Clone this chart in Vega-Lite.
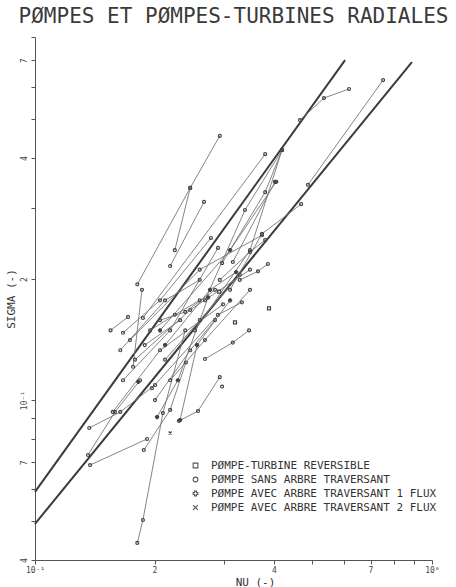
{
  "$schema": "https://vega.github.io/schema/vega-lite/v6.json",
  "width": 397,
  "height": 523,
  "autosize": {"type": "none"},
  "padding": {"left": 35, "top": 37, "right": 24, "bottom": 27},
  "background": "white",
  "title": {"text": "PØMPES ET PØMPES-TURBINES RADIALES", "font": "DejaVu Sans Mono", "fontSize": 21, "fontWeight": "normal", "color": "#3a3a3a", "offset": 10, "anchor": "middle"},
  "config": {"view": {"stroke": null}},
  "datasets": {
    "refs": [
      {"line": "a", "nu": 0.1, "sigma": 0.0591},
      {"line": "a", "nu": 0.604, "sigma": 0.701},
      {"line": "b", "nu": 0.1, "sigma": 0.0492},
      {"line": "b", "nu": 0.890, "sigma": 0.693}
    ],
    "pts": [
      {"s": 1, "o": 1, "type": "PØMPE SANS ARBRE TRAVERSANT", "nu": 0.181, "sigma": 0.194},
      {"s": 1, "o": 2, "type": "PØMPE SANS ARBRE TRAVERSANT", "nu": 0.246, "sigma": 0.337},
      {"s": 1, "o": 3, "type": "PØMPE SANS ARBRE TRAVERSANT", "nu": 0.292, "sigma": 0.454},
      {"s": 2, "o": 1, "type": "PØMPE SANS ARBRE TRAVERSANT", "nu": 0.225, "sigma": 0.236},
      {"s": 2, "o": 2, "type": "PØMPE SANS ARBRE TRAVERSANT", "nu": 0.246, "sigma": 0.337},
      {"s": 3, "o": 1, "type": "PØMPE SANS ARBRE TRAVERSANT", "nu": 0.187, "sigma": 0.160},
      {"s": 3, "o": 2, "type": "PØMPE SANS ARBRE TRAVERSANT", "nu": 0.380, "sigma": 0.409},
      {"s": 4, "o": 1, "type": "PØMPE SANS ARBRE TRAVERSANT", "nu": 0.219, "sigma": 0.2155},
      {"s": 4, "o": 2, "type": "PØMPE SANS ARBRE TRAVERSANT", "nu": 0.2665, "sigma": 0.311},
      {"s": 5, "o": 1, "type": "PØMPE SANS ARBRE TRAVERSANT", "nu": 0.268, "sigma": 0.177},
      {"s": 5, "o": 2, "type": "PØMPE SANS ARBRE TRAVERSANT", "nu": 0.338, "sigma": 0.297},
      {"s": 5, "o": 3, "type": "PØMPE SANS ARBRE TRAVERSANT", "nu": 0.419, "sigma": 0.419},
      {"s": 6, "o": 1, "type": "PØMPE SANS ARBRE TRAVERSANT", "nu": 0.296, "sigma": 0.219},
      {"s": 6, "o": 2, "type": "PØMPE SANS ARBRE TRAVERSANT", "nu": 0.380, "sigma": 0.329},
      {"s": 6, "o": 3, "type": "PØMPE SANS ARBRE TRAVERSANT", "nu": 0.419, "sigma": 0.419},
      {"s": 7, "o": 1, "type": "PØMPE SANS ARBRE TRAVERSANT", "nu": 0.315, "sigma": 0.2205},
      {"s": 7, "o": 2, "type": "PØMPE SANS ARBRE TRAVERSANT", "nu": 0.402, "sigma": 0.349},
      {"s": 8, "o": 1, "type": "PØMPE SANS ARBRE TRAVERSANT", "nu": 0.253, "sigma": 0.149},
      {"s": 8, "o": 2, "type": "PØMPE SANS ARBRE TRAVERSANT", "nu": 0.348, "sigma": 0.236},
      {"s": 8, "o": 3, "type": "PØMPE SANS ARBRE TRAVERSANT", "nu": 0.419, "sigma": 0.419},
      {"s": 9, "o": 1, "type": "PØMPE SANS ARBRE TRAVERSANT", "nu": 0.310, "sigma": 0.188},
      {"s": 9, "o": 2, "type": "PØMPE SANS ARBRE TRAVERSANT", "nu": 0.373, "sigma": 0.259},
      {"s": 9, "o": 3, "type": "PØMPE SANS ARBRE TRAVERSANT", "nu": 0.468, "sigma": 0.307},
      {"s": 10, "o": 1, "type": "PØMPE SANS ARBRE TRAVERSANT", "nu": 0.292, "sigma": 0.199},
      {"s": 10, "o": 2, "type": "PØMPE SANS ARBRE TRAVERSANT", "nu": 0.348, "sigma": 0.2335},
      {"s": 10, "o": 3, "type": "PØMPE SANS ARBRE TRAVERSANT", "nu": 0.380, "sigma": 0.250},
      {"s": 11, "o": 1, "type": "PØMPE SANS ARBRE TRAVERSANT", "nu": 0.328, "sigma": 0.199},
      {"s": 11, "o": 2, "type": "PØMPE SANS ARBRE TRAVERSANT", "nu": 0.3645, "sigma": 0.209},
      {"s": 11, "o": 3, "type": "PØMPE SANS ARBRE TRAVERSANT", "nu": 0.386, "sigma": 0.218},
      {"s": 12, "o": 1, "type": "PØMPE SANS ARBRE TRAVERSANT", "nu": 0.487, "sigma": 0.343},
      {"s": 12, "o": 2, "type": "PØMPE SANS ARBRE TRAVERSANT", "nu": 0.753, "sigma": 0.625},
      {"s": 13, "o": 1, "type": "PØMPE SANS ARBRE TRAVERSANT", "nu": 0.465, "sigma": 0.497},
      {"s": 13, "o": 2, "type": "PØMPE SANS ARBRE TRAVERSANT", "nu": 0.5345, "sigma": 0.564},
      {"s": 13, "o": 3, "type": "PØMPE SANS ARBRE TRAVERSANT", "nu": 0.618, "sigma": 0.594},
      {"s": 14, "o": 1, "type": "PØMPE SANS ARBRE TRAVERSANT", "nu": 0.155, "sigma": 0.149},
      {"s": 14, "o": 2, "type": "PØMPE SANS ARBRE TRAVERSANT", "nu": 0.1715, "sigma": 0.161},
      {"s": 15, "o": 1, "type": "PØMPE SANS ARBRE TRAVERSANT", "nu": 0.1666, "sigma": 0.147},
      {"s": 15, "o": 2, "type": "PØMPE SANS ARBRE TRAVERSANT", "nu": 0.2065, "sigma": 0.177},
      {"s": 15, "o": 3, "type": "PØMPE SANS ARBRE TRAVERSANT", "nu": 0.2775, "sigma": 0.253},
      {"s": 16, "o": 1, "type": "PØMPE SANS ARBRE TRAVERSANT", "nu": 0.186, "sigma": 0.188},
      {"s": 16, "o": 2, "type": "PØMPE SANS ARBRE TRAVERSANT", "nu": 0.1766, "sigma": 0.121},
      {"s": 17, "o": 1, "type": "PØMPE SANS ARBRE TRAVERSANT", "nu": 0.137, "sigma": 0.0852},
      {"s": 17, "o": 2, "type": "PØMPE SANS ARBRE TRAVERSANT", "nu": 0.164, "sigma": 0.0934},
      {"s": 17, "o": 3, "type": "PØMPE SANS ARBRE TRAVERSANT", "nu": 0.2006, "sigma": 0.109},
      {"s": 18, "o": 1, "type": "PØMPE SANS ARBRE TRAVERSANT", "nu": 0.136, "sigma": 0.073},
      {"s": 18, "o": 2, "type": "PØMPE SANS ARBRE TRAVERSANT", "nu": 0.159, "sigma": 0.0934},
      {"s": 18, "o": 3, "type": "PØMPE SANS ARBRE TRAVERSANT", "nu": 0.184, "sigma": 0.112},
      {"s": 19, "o": 1, "type": "PØMPE SANS ARBRE TRAVERSANT", "nu": 0.1376, "sigma": 0.0689},
      {"s": 19, "o": 2, "type": "PØMPE SANS ARBRE TRAVERSANT", "nu": 0.1915, "sigma": 0.080},
      {"s": 20, "o": 1, "type": "PØMPE SANS ARBRE TRAVERSANT", "nu": 0.181, "sigma": 0.0441},
      {"s": 20, "o": 2, "type": "PØMPE SANS ARBRE TRAVERSANT", "nu": 0.187, "sigma": 0.0503},
      {"s": 20, "o": 3, "type": "PØMPE SANS ARBRE TRAVERSANT", "nu": 0.210, "sigma": 0.0928},
      {"s": 20, "o": 4, "type": "PØMPE SANS ARBRE TRAVERSANT", "nu": 0.239, "sigma": 0.149},
      {"s": 21, "o": 1, "type": "PØMPE SANS ARBRE TRAVERSANT", "nu": 0.268, "sigma": 0.1265},
      {"s": 21, "o": 2, "type": "PØMPE SANS ARBRE TRAVERSANT", "nu": 0.315, "sigma": 0.139},
      {"s": 21, "o": 3, "type": "PØMPE SANS ARBRE TRAVERSANT", "nu": 0.346, "sigma": 0.149},
      {"s": 22, "o": 1, "type": "PØMPE SANS ARBRE TRAVERSANT", "nu": 0.2305, "sigma": 0.0887},
      {"s": 22, "o": 2, "type": "PØMPE SANS ARBRE TRAVERSANT", "nu": 0.2574, "sigma": 0.0939},
      {"s": 22, "o": 3, "type": "PØMPE SANS ARBRE TRAVERSANT", "nu": 0.292, "sigma": 0.114},
      {"s": 23, "o": 1, "type": "PØMPE SANS ARBRE TRAVERSANT", "nu": 0.188, "sigma": 0.0751},
      {"s": 23, "o": 2, "type": "PØMPE SANS ARBRE TRAVERSANT", "nu": 0.219, "sigma": 0.0945},
      {"s": 23, "o": 3, "type": "PØMPE SANS ARBRE TRAVERSANT", "nu": 0.240, "sigma": 0.124},
      {"s": 24, "o": 1, "type": "PØMPE AVEC ARBRE TRAVERSANT 1 FLUX", "nu": 0.203, "sigma": 0.0907},
      {"s": 24, "o": 2, "type": "PØMPE AVEC ARBRE TRAVERSANT 1 FLUX", "nu": 0.229, "sigma": 0.112},
      {"s": 24, "o": 3, "type": "PØMPE AVEC ARBRE TRAVERSANT 1 FLUX", "nu": 0.273, "sigma": 0.180},
      {"s": 25, "o": 1, "type": "PØMPE SANS ARBRE TRAVERSANT", "nu": 0.197, "sigma": 0.107},
      {"s": 25, "o": 2, "type": "PØMPE SANS ARBRE TRAVERSANT", "nu": 0.289, "sigma": 0.163},
      {"s": 25, "o": 3, "type": "PØMPE SANS ARBRE TRAVERSANT", "nu": 0.332, "sigma": 0.175},
      {"s": 26, "o": 1, "type": "PØMPE SANS ARBRE TRAVERSANT", "nu": 0.157, "sigma": 0.0934},
      {"s": 26, "o": 2, "type": "PØMPE SANS ARBRE TRAVERSANT", "nu": 0.2065, "sigma": 0.133},
      {"s": 26, "o": 3, "type": "PØMPE SANS ARBRE TRAVERSANT", "nu": 0.2976, "sigma": 0.173},
      {"s": 27, "o": 1, "type": "PØMPE AVEC ARBRE TRAVERSANT 1 FLUX", "nu": 0.232, "sigma": 0.0892},
      {"s": 27, "o": 2, "type": "PØMPE AVEC ARBRE TRAVERSANT 1 FLUX", "nu": 0.256, "sigma": 0.137},
      {"s": 27, "o": 3, "type": "PØMPE AVEC ARBRE TRAVERSANT 1 FLUX", "nu": 0.310, "sigma": 0.177},
      {"s": 28, "o": 1, "type": "PØMPE SANS ARBRE TRAVERSANT", "nu": 0.1666, "sigma": 0.112},
      {"s": 28, "o": 2, "type": "PØMPE SANS ARBRE TRAVERSANT", "nu": 0.219, "sigma": 0.149},
      {"s": 28, "o": 3, "type": "PØMPE SANS ARBRE TRAVERSANT", "nu": 0.289, "sigma": 0.239},
      {"s": 29, "o": 1, "type": "PØMPE SANS ARBRE TRAVERSANT", "nu": 0.1735, "sigma": 0.141},
      {"s": 29, "o": 2, "type": "PØMPE SANS ARBRE TRAVERSANT", "nu": 0.260, "sigma": 0.211},
      {"s": 29, "o": 3, "type": "PØMPE SANS ARBRE TRAVERSANT", "nu": 0.373, "sigma": 0.257},
      {"s": 30, "o": 1, "type": "PØMPE AVEC ARBRE TRAVERSANT 1 FLUX", "nu": 0.2065, "sigma": 0.149},
      {"s": 30, "o": 2, "type": "PØMPE AVEC ARBRE TRAVERSANT 1 FLUX", "nu": 0.310, "sigma": 0.236},
      {"s": 30, "o": 3, "type": "PØMPE AVEC ARBRE TRAVERSANT 1 FLUX", "nu": 0.405, "sigma": 0.349},
      {"s": 31, "o": 1, "type": "PØMPE SANS ARBRE TRAVERSANT", "nu": 0.164, "sigma": 0.133},
      {"s": 31, "o": 2, "type": "PØMPE SANS ARBRE TRAVERSANT", "nu": 0.2126, "sigma": 0.177},
      {"s": 31, "o": 3, "type": "PØMPE SANS ARBRE TRAVERSANT", "nu": 0.260, "sigma": 0.199},
      {"s": 32, "o": 1, "type": "PØMPE SANS ARBRE TRAVERSANT", "nu": 0.1786, "sigma": 0.126},
      {"s": 32, "o": 2, "type": "PØMPE SANS ARBRE TRAVERSANT", "nu": 0.246, "sigma": 0.1675},
      {"s": 32, "o": 3, "type": "PØMPE SANS ARBRE TRAVERSANT", "nu": 0.348, "sigma": 0.211},
      {"s": 33, "o": 1, "type": "PØMPE AVEC ARBRE TRAVERSANT 1 FLUX", "nu": 0.2126, "sigma": 0.137},
      {"s": 33, "o": 2, "type": "PØMPE AVEC ARBRE TRAVERSANT 1 FLUX", "nu": 0.276, "sigma": 0.188},
      {"s": 33, "o": 3, "type": "PØMPE AVEC ARBRE TRAVERSANT 1 FLUX", "nu": 0.321, "sigma": 0.208},
      {"s": 34, "o": 1, "type": "PØMPE-TURBINE REVERSIBLE", "nu": 0.3885, "sigma": 0.169},
      {"s": 35, "o": 1, "type": "PØMPE-TURBINE REVERSIBLE", "nu": 0.319, "sigma": 0.156},
      {"s": 36, "o": 1, "type": "PØMPE-TURBINE REVERSIBLE", "nu": 0.291, "sigma": 0.186},
      {"s": 37, "o": 1, "type": "PØMPE SANS ARBRE TRAVERSANT", "nu": 0.296, "sigma": 0.108},
      {"s": 38, "o": 1, "type": "PØMPE AVEC ARBRE TRAVERSANT 2 FLUX", "nu": 0.219, "sigma": 0.0828},
      {"s": 39, "o": 1, "type": "PØMPE AVEC ARBRE TRAVERSANT 1 FLUX", "nu": 0.182, "sigma": 0.111},
      {"s": 40, "o": 1, "type": "PØMPE SANS ARBRE TRAVERSANT", "nu": 0.195, "sigma": 0.149},
      {"s": 40, "o": 2, "type": "PØMPE SANS ARBRE TRAVERSANT", "nu": 0.225, "sigma": 0.163},
      {"s": 40, "o": 3, "type": "PØMPE SANS ARBRE TRAVERSANT", "nu": 0.260, "sigma": 0.177},
      {"s": 41, "o": 1, "type": "PØMPE SANS ARBRE TRAVERSANT", "nu": 0.2065, "sigma": 0.158},
      {"s": 41, "o": 2, "type": "PØMPE SANS ARBRE TRAVERSANT", "nu": 0.239, "sigma": 0.1656},
      {"s": 41, "o": 3, "type": "PØMPE SANS ARBRE TRAVERSANT", "nu": 0.284, "sigma": 0.188},
      {"s": 42, "o": 1, "type": "PØMPE SANS ARBRE TRAVERSANT", "nu": 0.189, "sigma": 0.137},
      {"s": 42, "o": 2, "type": "PØMPE SANS ARBRE TRAVERSANT", "nu": 0.232, "sigma": 0.158},
      {"s": 43, "o": 1, "type": "PØMPE SANS ARBRE TRAVERSANT", "nu": 0.2126, "sigma": 0.126},
      {"s": 43, "o": 2, "type": "PØMPE SANS ARBRE TRAVERSANT", "nu": 0.260, "sigma": 0.158},
      {"s": 43, "o": 3, "type": "PØMPE SANS ARBRE TRAVERSANT", "nu": 0.328, "sigma": 0.2047},
      {"s": 44, "o": 1, "type": "PØMPE SANS ARBRE TRAVERSANT", "nu": 0.2006, "sigma": 0.100},
      {"s": 44, "o": 2, "type": "PØMPE SANS ARBRE TRAVERSANT", "nu": 0.246, "sigma": 0.133},
      {"s": 44, "o": 3, "type": "PØMPE SANS ARBRE TRAVERSANT", "nu": 0.284, "sigma": 0.158},
      {"s": 45, "o": 1, "type": "PØMPE SANS ARBRE TRAVERSANT", "nu": 0.219, "sigma": 0.112},
      {"s": 45, "o": 2, "type": "PØMPE SANS ARBRE TRAVERSANT", "nu": 0.268, "sigma": 0.141},
      {"s": 45, "o": 3, "type": "PØMPE SANS ARBRE TRAVERSANT", "nu": 0.348, "sigma": 0.188}
    ]
  },
  "encoding": {
    "x": {
      "field": "nu", "type": "quantitative",
      "scale": {"type": "log", "domain": [0.1, 1], "nice": false},
      "axis": {
        "values": [0.1, 0.2, 0.3, 0.4, 0.5, 0.6, 0.7, 0.8, 0.9, 1],
        "labelExpr": "datum.value == 0.1 ? '10⁻¹' : (datum.value == 1 ? '10⁰' : (indexof([0.2, 0.4, 0.7], datum.value) >= 0 ? format(datum.value * 10, 'd') : ''))",
        "grid": false, "title": "NU (-)", "titleX": 220, "titlePadding": 2,
        "labelFont": "DejaVu Sans Mono", "labelFontSize": 8, "labelColor": "#444", "labelPadding": 2,
        "labelFlush": false, "labelOverlap": false,
        "titleFont": "DejaVu Sans Mono", "titleFontSize": 11, "titleFontWeight": "normal", "titleColor": "#333",
        "domainColor": "#555", "tickColor": "#555", "tickSize": 4
      }
    },
    "y": {
      "field": "sigma", "type": "quantitative",
      "scale": {"type": "log", "domain": [0.04, 0.8], "nice": false},
      "axis": {
        "values": [0.04, 0.05, 0.06, 0.07, 0.08, 0.09, 0.1, 0.2, 0.3, 0.4, 0.5, 0.6, 0.7, 0.8],
        "labelExpr": "datum.value == 0.1 ? '10⁻¹' : (indexof([0.04, 0.07, 0.2, 0.4, 0.7], datum.value) >= 0 ? (datum.value < 0.1 ? format(datum.value * 100, 'd') : format(datum.value * 10, 'd')) : '')",
        "grid": false, "title": "SIGMA (-)", "labelAngle": -90,
        "labelFont": "DejaVu Sans Mono", "labelFontSize": 8, "labelColor": "#444", "labelPadding": 3,
        "labelFlush": false, "labelOverlap": false,
        "titleFont": "DejaVu Sans Mono", "titleFontSize": 11, "titleFontWeight": "normal", "titleColor": "#333", "titlePadding": 4,
        "domainColor": "#555", "tickColor": "#555", "tickSize": 4
      }
    }
  },
  "layer": [
    {
      "data": {"name": "refs"},
      "mark": {"type": "line", "color": "#3a3a3a", "strokeWidth": 2},
      "encoding": {"detail": {"field": "line"}}
    },
    {
      "data": {"name": "pts"},
      "mark": {"type": "line", "color": "#777", "strokeWidth": 0.9},
      "encoding": {"detail": {"field": "s"}, "order": {"field": "o"}}
    },
    {
      "data": {"name": "pts"},
      "mark": {"type": "point", "filled": false, "size": 9, "strokeWidth": 1.2, "color": "#444", "opacity": 1},
      "encoding": {
        "shape": {
          "field": "type", "type": "nominal",
          "scale": {
            "domain": ["PØMPE-TURBINE REVERSIBLE", "PØMPE SANS ARBRE TRAVERSANT", "PØMPE AVEC ARBRE TRAVERSANT 1 FLUX", "PØMPE AVEC ARBRE TRAVERSANT 2 FLUX"],
            "range": ["square", "circle", "cross", "M-1,-1L1,1M-1,1L1,-1"]
          },
          "legend": {
            "title": null, "orient": "none", "legendX": 155, "legendY": 423,
            "labelFont": "DejaVu Sans Mono", "labelFontSize": 11, "labelColor": "#333", "labelLimit": 320,
            "labelOffset": 10, "rowPadding": 2, "symbolSize": 22, "symbolStrokeColor": "#555", "symbolStrokeWidth": 1.1, "symbolFillColor": "transparent"
          }
        }
      }
    },
    {
      "data": {"values": [{}]},
      "mark": {"type": "text", "font": "DejaVu Sans Mono", "fontSize": 15, "color": "#333", "align": "left", "baseline": "middle"},
      "encoding": {
        "x": {"datum": 0.148, "type": "quantitative"},
        "y": {"datum": 0.654, "type": "quantitative"},
        "text": {"value": "SIGMA=F(NU)"}
      }
    }
  ]
}
